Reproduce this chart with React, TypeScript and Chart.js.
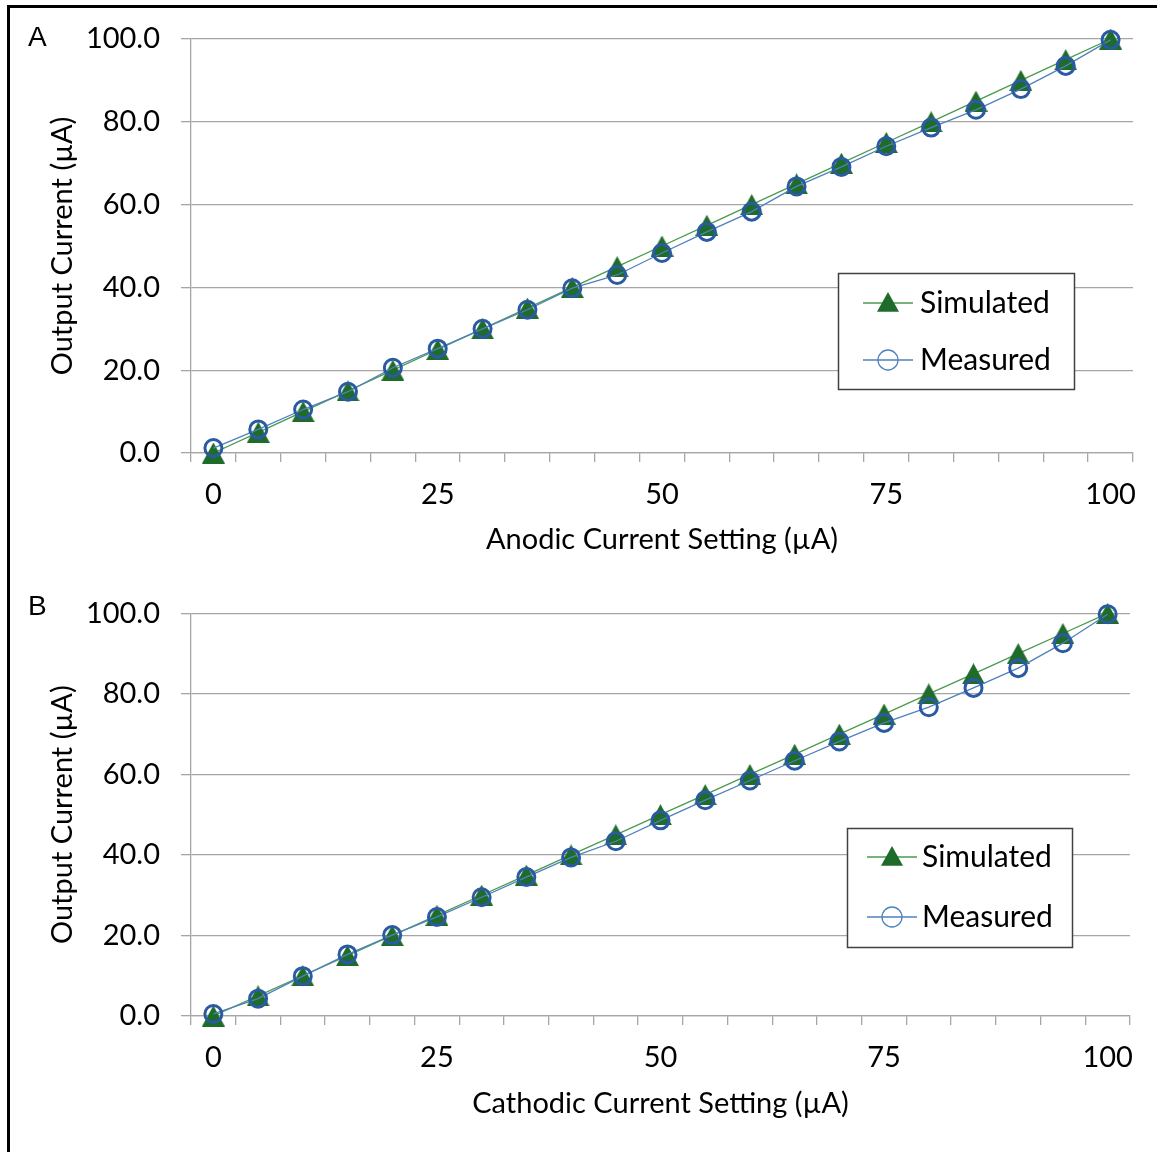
import React, { useEffect, useRef } from 'react';
import { Chart, registerables } from 'chart.js';

Chart.register(...registerables);

// ---------- data ----------
const settings = ['0', '5', '10', '15', '20', '25', '30', '35', '40', '45', '50', '55', '60', '65', '70', '75', '80', '85', '90', '95', '100'];
const shownXLabels = ['0', '25', '50', '75', '100'];
const simulatedA = [0, 5, 10, 15, 20, 25, 30, 35, 40, 45, 50, 55, 60, 65, 70, 75, 80, 85, 90, 95, 100];
const measuredA = [1.2, 5.7, 10.5, 14.8, 20.6, 25.2, 30.0, 34.6, 39.8, 43.0, 48.3, 53.4, 58.3, 64.4, 69.1, 74.1, 78.6, 82.9, 87.9, 93.5, 99.8];
const simulatedB = [0, 5, 10, 15, 20, 25, 30, 35, 40, 45, 50, 55, 60, 65, 70, 75, 80, 85, 90, 95, 100];
const measuredB = [0.5, 4.3, 9.9, 15.3, 20.1, 24.6, 29.5, 34.5, 39.4, 43.4, 48.6, 53.6, 58.5, 63.4, 68.2, 72.8, 76.7, 81.5, 86.4, 92.6, 99.8];
const yMin = 0;
const yMax = 100;
const yStep = 20;
const seriesNames = ['Simulated', 'Measured'];
const yTitle = 'Output Current (µA)';
const xTitleA = 'Anodic Current Setting (µA)';
const xTitleB = 'Cathodic Current Setting (µA)';

// ---------- styles ----------
const FONT = 'Lato, "Open Sans", sans-serif';
const FS = 29;
const LEGEND_FS = 30;
const GRID = '#a6a6a6';
const SIM_LINE = '#4a9a4f';
const SIM_MARK = '#1e6b2a';
const MEAS_LINE = '#4f81bd';
const MEAS_MARK = '#2a5aa3';

function makeTriangle(w: number, h: number, color: string): HTMLCanvasElement {
  const c = document.createElement('canvas');
  c.width = w;
  c.height = h;
  const g = c.getContext('2d')!;
  g.fillStyle = color;
  g.beginPath();
  g.moveTo(w / 2, 0);
  g.lineTo(w, h);
  g.lineTo(0, h);
  g.closePath();
  g.fill();
  return c;
}

const boxLegendPlugin = {
  id: 'boxLegend',
  afterDatasetsDraw(chart: any, _args: any, opts: any) {
    if (!opts || !opts.w) return;
    const { ctx, chartArea } = chart;
    const x = Math.round(chartArea.left + opts.fx * (chartArea.right - chartArea.left));
    const y = Math.round(chartArea.top + opts.fy * (chartArea.bottom - chartArea.top));
    ctx.save();
    ctx.fillStyle = '#ffffff';
    ctx.fillRect(x, y, opts.w, opts.h);
    ctx.strokeStyle = '#404040';
    ctx.lineWidth = 1.5;
    ctx.strokeRect(x + 0.5, y + 0.5, opts.w, opts.h);
    chart.data.datasets.forEach((ds: any, i: number) => {
      const ry = y + opts.rows[i];
      const mx = x + opts.mark;
      ctx.strokeStyle = ds.borderColor;
      ctx.lineWidth = 1.3;
      ctx.beginPath();
      ctx.moveTo(x + opts.lineL, ry);
      ctx.lineTo(x + opts.lineR, ry);
      ctx.stroke();
      if (i === 0) {
        const r = 11;
        ctx.fillStyle = SIM_MARK;
        ctx.beginPath();
        ctx.moveTo(mx, ry - r);
        ctx.lineTo(mx + r, ry + r * 0.8);
        ctx.lineTo(mx - r, ry + r * 0.8);
        ctx.closePath();
        ctx.fill();
      } else {
        ctx.strokeStyle = ds.borderColor;
        ctx.lineWidth = 1.3;
        ctx.beginPath();
        ctx.arc(mx, ry, 10, 0, Math.PI * 2);
        ctx.stroke();
      }
      ctx.fillStyle = '#000';
      ctx.font = `${LEGEND_FS}px ${FONT}`;
      ctx.textBaseline = 'middle';
      ctx.textAlign = 'left';
      ctx.fillText(ds.label, x + opts.text, ry);
    });
    ctx.restore();
  },
};

function makeConfig(
  sim: number[],
  meas: number[],
  xTitle: string,
  pad: { top: number; right: number },
  xHeight: number,
  xTitlePad: number,
  legend: any
): any {
  const font = { family: FONT, size: FS };
  const tri = makeTriangle(23, 21, SIM_MARK);
  return {
    type: 'line',
    data: {
      labels: settings,
      datasets: [
        {
          label: seriesNames[0],
          data: sim,
          borderColor: SIM_LINE,
          borderWidth: 1.3,
          pointStyle: tri,
          pointRadius: 11,
          pointBackgroundColor: SIM_MARK,
          pointBorderColor: SIM_MARK,
          clip: false,
          order: 1,
        },
        {
          label: seriesNames[1],
          data: meas,
          borderColor: MEAS_LINE,
          borderWidth: 1.3,
          pointStyle: 'circle',
          pointRadius: 8.5,
          pointBackgroundColor: 'rgba(0,0,0,0)',
          pointBorderColor: MEAS_MARK,
          pointBorderWidth: 3,
          clip: false,
          order: 0,
        },
      ],
    },
    options: {
      responsive: false,
      animation: false,
      devicePixelRatio: 1,
      events: [],
      layout: { padding: { left: 0, top: pad.top, right: pad.right, bottom: 0 } },
      plugins: {
        legend: { display: false },
        tooltip: { enabled: false },
        boxLegend: legend,
      },
      scales: {
        x: {
          type: 'category',
          offset: true,
          grid: { offset: true, drawOnChartArea: false, drawTicks: true, tickLength: 9, color: GRID, lineWidth: 1.3 },
          border: { display: true, color: GRID, width: 1.3 },
          ticks: {
            autoSkip: false,
            maxRotation: 0,
            minRotation: 0,
            padding: 15,
            color: '#000',
            font,
            callback: (_v: any, i: number) => (shownXLabels.includes(settings[i]) ? settings[i] : ''),
          },
          title: { display: true, text: xTitle, color: '#000', font, padding: { top: 0, bottom: xTitlePad } },
          afterFit: (s: any) => {
            s.height = xHeight;
          },
        },
        y: {
          min: yMin,
          max: yMax,
          grid: { color: GRID, lineWidth: 1.3, drawTicks: true, tickLength: 10 },
          border: { display: true, color: GRID, width: 1.3 },
          ticks: {
            stepSize: yStep,
            padding: 21,
            color: '#000',
            font,
            callback: (v: any) => Number(v).toFixed(1),
          },
          title: { display: true, text: yTitle, color: '#000', font, padding: { top: 45.5, bottom: 0 } },
          afterFit: (s: any) => {
            s.width = 191;
          },
        },
      },
    },
    plugins: [boxLegendPlugin],
  };
}

function ChartPanel(props: { make: () => any; width: number; height: number; top: number }) {
  const ref = useRef<HTMLCanvasElement | null>(null);
  useEffect(() => {
    if (!ref.current) return;
    const chart = new Chart(ref.current, props.make());
    return () => chart.destroy();
  }, []);
  return (
    <canvas
      ref={ref}
      width={props.width}
      height={props.height}
      style={{ position: 'absolute', left: 0, top: props.top, width: props.width, height: props.height }}
    />
  );
}

export default function App() {
  const makeA = () =>
    makeConfig(simulatedA, measuredA, xTitleA, { top: 39, right: 24 }, 122, 17.5, {
      fx: 0.687, fy: 0.565, w: 236, h: 116, rows: [30, 87], lineL: 25, lineR: 75, mark: 50, text: 82,
    });
  const makeB = () =>
    makeConfig(simulatedB, measuredB, xTitleB, { top: 38, right: 27 }, 136, 30.5, {
      fx: 0.699, fy: 0.533, w: 225, h: 119, rows: [29, 89], lineL: 20, lineR: 70, mark: 45, text: 75,
    });
  const letter: React.CSSProperties = {
    position: 'absolute',
    fontFamily: '"Liberation Sans", Arial, sans-serif',
    fontSize: 28,
    lineHeight: '28px',
    color: '#000',
  };
  return (
    <div style={{ position: 'absolute', left: 0, top: 0, width: 1157, height: 1152, overflow: 'hidden', background: '#fff' }}>
      <ChartPanel make={makeA} width={1157} height={575} top={0} />
      <ChartPanel make={makeB} width={1157} height={577} top={575} />
      <div style={{ ...letter, left: 28, top: 23 }}>A</div>
      <div style={{ ...letter, left: 28, top: 592 }}>B</div>
      <div
        style={{
          position: 'absolute',
          left: 7,
          top: 5,
          width: 1160,
          height: 1160,
          borderLeft: '3px solid #000',
          borderTop: '3px solid #000',
          pointerEvents: 'none',
        }}
      />
    </div>
  );
}
